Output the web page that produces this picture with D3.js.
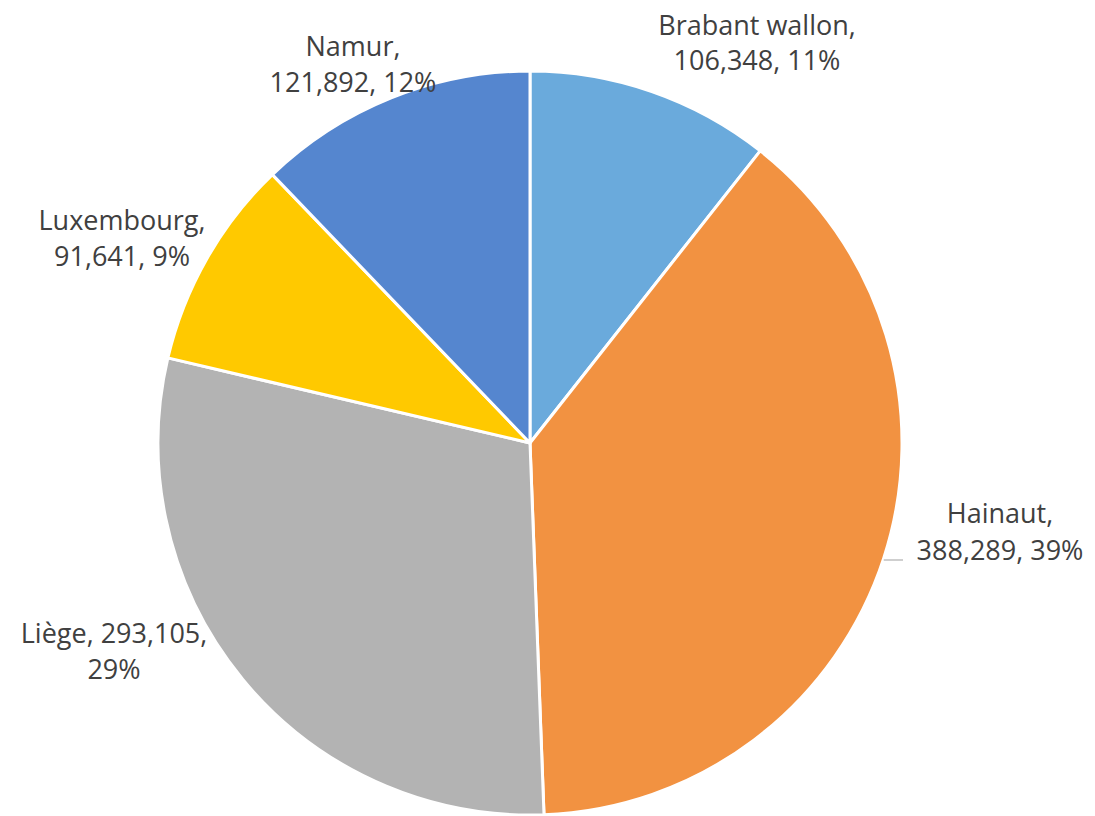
<!DOCTYPE html>
<html>
<head>
<meta charset="utf-8">
<script src="https://cdn.jsdelivr.net/npm/d3@7"></script>
<style>
  html, body { margin: 0; padding: 0; background: #fff; }
  svg { display: block; }
</style>
</head>
<body>
<svg id="chart" width="1095" height="816"></svg>
<script>
// Walloon provinces and their values
const provinces = ["Brabant wallon", "Hainaut", "Liège", "Luxembourg", "Namur"];
const values = [106348, 388289, 293105, 91641, 121892];
const colors = ["#6aaadc", "#f29241", "#b3b3b3", "#ffc900", "#5586cf"];

// Label placement (centre x, first baseline y, line gap) per slice
const labelPos = [
  { x: 757, y: 35, gap: 35 },
  { x: 1000, y: 523, gap: 37 },
  { x: 114, y: 643, gap: 36 },
  { x: 122, y: 230, gap: 36 },
  { x: 353, y: 56, gap: 36 }
];

const width = 1095, height = 816;
const cx = 530, cy = 443, radius = 372;

const svg = d3.select("#chart");
const total = d3.sum(values);
const fmt = d3.format(",");
const pctFmt = d3.format(".0%");

const data = provinces.map((name, i) => ({ name, value: values[i], color: colors[i] }));

const pie = d3.pie().value(d => d.value).sort(null);
const arc = d3.arc().innerRadius(0).outerRadius(radius);
const arcs = pie(data);

const g = svg.append("g").attr("transform", `translate(${cx},${cy})`);

g.selectAll("path")
  .data(arcs)
  .join("path")
  .attr("d", arc)
  .attr("fill", d => d.data.color)
  .attr("stroke", "#fff")
  .attr("stroke-width", 3)
  .attr("stroke-linejoin", "round");

// Label lines: split as in the chart's own wrapping
function labelLines(d) {
  const v = fmt(d.data.value);
  const p = pctFmt(d.data.value / total);
  if (d.data.name === "Liège") return [`${d.data.name}, ${v},`, p];
  return [`${d.data.name},`, `${v}, ${p}`];
}

const labels = svg.append("g")
  .attr("font-family", "'Open Sans', sans-serif")
  .attr("font-size", 27)
  .attr("fill", "#404040")
  .attr("text-anchor", "middle");

arcs.forEach((d, i) => {
  const pos = labelPos[i];
  const t = labels.append("text").attr("x", pos.x).attr("y", pos.y);
  labelLines(d).forEach((line, k) => {
    t.append("tspan").attr("x", pos.x).attr("y", pos.y + k * pos.gap).text(line);
  });
});

// Leader line for the Hainaut label
{
  const d = arcs[1];
  const pos = labelPos[1];
  const edgeX = cx + Math.sin((d.startAngle + d.endAngle) / 2) * radius;
  svg.append("line")
    .attr("x1", Math.min(edgeX, 885)).attr("y1", pos.y + pos.gap)
    .attr("x2", 903).attr("y2", pos.y + pos.gap)
    .attr("stroke", "#bfbfbf")
    .attr("stroke-width", 1.5);
}
</script>
</body>
</html>
